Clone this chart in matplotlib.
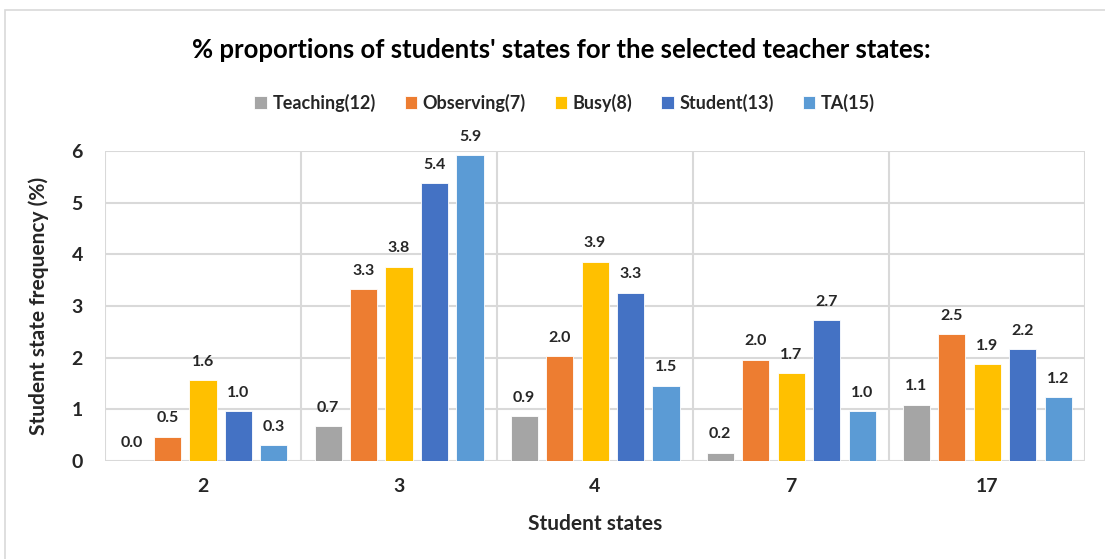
import matplotlib
matplotlib.use("Agg")
import matplotlib.pyplot as plt
from matplotlib.patches import Rectangle
import numpy as np

categories = ["2", "3", "4", "7", "17"]
series_names = ["Teaching(12)", "Observing(7)", "Busy(8)", "Student(13)", "TA(15)"]
teaching = [0.0, 0.67, 0.87, 0.16, 1.09]
observing = [0.47, 3.33, 2.03, 1.96, 2.46]
busy = [1.56, 3.76, 3.86, 1.70, 1.87]
student = [0.97, 5.38, 3.26, 2.72, 2.16]
ta = [0.31, 5.92, 1.46, 0.97, 1.23]
colors = ["#A5A5A5", "#ED7D31", "#FFC000", "#4472C4", "#5B9BD5"]

plt.rcParams["font.family"] = ["Lato", "DejaVu Sans"]
plt.rcParams["font.weight"] = "bold"

fig = plt.figure(figsize=(11.05, 5.59), dpi=100)
ax = fig.add_axes([0.095, 0.1753, 0.887, 0.5546])

series = [teaching, observing, busy, student, ta]
x = np.arange(len(categories))
pitch = 0.181
width = 0.138
for i, (vals, name, col) in enumerate(zip(series, series_names, colors)):
    pos = x + (i - 2) * pitch
    bars = ax.bar(pos, vals, width=width, color=col, label=name,
                  edgecolor="white", linewidth=0.6, zorder=3)
    for b, v in zip(bars, vals):
        ax.text(b.get_x() + b.get_width() / 2, v + 0.22, f"{v:.1f}",
                ha="center", va="bottom", fontsize=11.5, fontweight="bold",
                color="#262626", zorder=4)

ax.set_xlim(-0.5, len(categories) - 0.5)
ax.set_ylim(0, 6)
ax.set_yticks(range(0, 7))
ax.set_xticks(x)
ax.set_xticklabels(categories)
ax.set_xticks(np.arange(-0.5, len(categories)), minor=True)
ax.tick_params(axis="both", which="both", length=0, labelsize=14,
               colors="#262626")
ax.tick_params(axis="x", pad=12)
ax.tick_params(axis="y", pad=16)
for lab in ax.get_xticklabels() + ax.get_yticklabels():
    lab.set_fontweight("bold")

ax.grid(axis="y", which="major", color="#D9D9D9", linewidth=1.5, zorder=0)
ax.grid(axis="x", which="minor", color="#D9D9D9", linewidth=1.5, zorder=0)
ax.grid(axis="x", which="major", visible=False)
for s in ax.spines.values():
    s.set_visible(False)

ax.set_xlabel("Student states", fontsize=15, fontweight="bold",
              color="#262626", labelpad=14)
ax.set_ylabel("Student state frequency (%)", fontsize=15, fontweight="bold",
              color="#262626", labelpad=16)

fig.text(0.508, 0.91, "% proportions of students' states for the selected teacher states:",
         ha="center", va="center", fontsize=18.5, fontweight="bold", color="#000000")

handles, labels = ax.get_legend_handles_labels()
leg = fig.legend(handles, labels, loc="center", bbox_to_anchor=(0.511, 0.816),
                 ncol=5, frameon=False, fontsize=13, handlelength=0.7,
                 handleheight=0.7, handletextpad=0.3, columnspacing=1.6)
for t in leg.get_texts():
    t.set_fontweight("bold")
    t.set_color("#262626")

fig.patches.append(Rectangle((5 / 1105, -0.05), 1.2, 1 - 10 / 559 + 0.05,
                             transform=fig.transFigure, fill=False,
                             edgecolor="#D9D9D9", linewidth=1.2))

fig.savefig("out.png", dpi=100)
